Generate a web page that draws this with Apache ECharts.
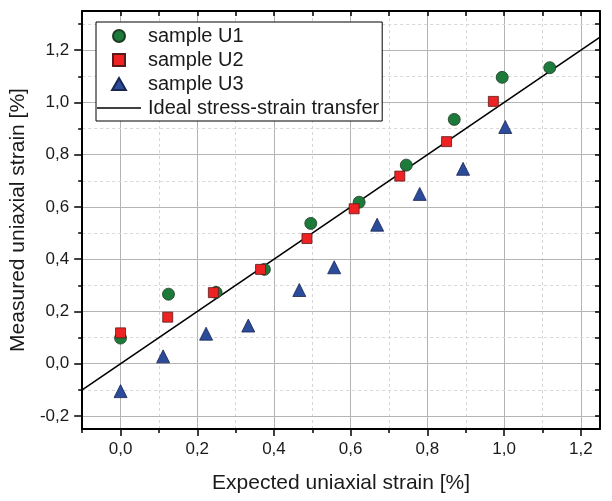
<!DOCTYPE html>
<html lang="en">
<head>
    <meta charset="UTF-8">
    <title>Strain transfer</title>
    <script src="https://cdn.jsdelivr.net/npm/echarts@6.0.0/dist/echarts.min.js"></script>
    <style>
        html, body { margin: 0; padding: 0; background: #fff; }
    </style>
</head>
<body>
    <div id="chart" style="width: 612px; height: 501px;"></div>
    <script>
        // expected strain [%] / measured strain [%]
        const u1X = [0.0, 0.125, 0.249, 0.375, 0.496, 0.622, 0.745, 0.870, 0.995, 1.119];
        const u1Y = [0.098, 0.266, 0.273, 0.361, 0.537, 0.618, 0.760, 0.935, 1.096, 1.133];
        const u2X = [0.0, 0.123, 0.242, 0.365, 0.486, 0.609, 0.728, 0.850, 0.972];
        const u2Y = [0.118, 0.178, 0.272, 0.361, 0.479, 0.593, 0.718, 0.850, 1.004];
        const u3X = [0.0, 0.111, 0.223, 0.333, 0.466, 0.557, 0.669, 0.780, 0.893, 1.003];
        const u3Y = [-0.105, 0.028, 0.115, 0.146, 0.282, 0.369, 0.532, 0.650, 0.746, 0.906];
        const idealX = [-0.1, 1.25]; // ideal transfer: measured = expected

        // ticks
        const xMajor = [0.0, 0.2, 0.4, 0.6, 0.8, 1.0, 1.2];
        const xMinor = [-0.1, 0.1, 0.3, 0.5, 0.7, 0.9, 1.1];
        const yMajor = [-0.2, 0.0, 0.2, 0.4, 0.6, 0.8, 1.0, 1.2];
        const yMinor = [-0.1, 0.1, 0.3, 0.5, 0.7, 0.9, 1.1, 1.3];
        const xAll = xMajor.concat(xMinor);
        const yAll = yMajor.concat(yMinor);

        const names = ['sample U1', 'sample U2', 'sample U3', 'Ideal stress-strain transfer'];
        const FONT = 'Arial, "Liberation Sans", sans-serif';
        const TXT = '#1a1a1a';

        function pairs(xs, ys) {
            return xs.map((x, i) => [x, ys[i]]);
        }
        function fmt(v) {
            return v.toFixed(1).replace('.', ',');
        }

        // grid lines as markLines (solid major, dashed minor)
        const gridLines = [];
        xMajor.forEach(v => gridLines.push({ xAxis: v, lineStyle: { color: '#b4b4b4', type: 'solid', width: 1 } }));
        xMinor.forEach(v => gridLines.push({ xAxis: v, lineStyle: { color: '#d6d6d6', type: [3, 3], width: 1 } }));
        yMajor.forEach(v => gridLines.push({ yAxis: v, lineStyle: { color: '#b4b4b4', type: 'solid', width: 1 } }));
        yMinor.forEach(v => gridLines.push({ yAxis: v, lineStyle: { color: '#d6d6d6', type: [3, 3], width: 1 } }));

        const axisBase = {
            type: 'value',
            axisLine: { show: true, onZero: false, lineStyle: { color: '#000', width: 2 } },
            splitLine: { show: false },
            axisLabel: { show: false },
        };
        const hiddenLine = { show: false, onZero: false };

        const chart = echarts.init(document.getElementById('chart'));
        chart.setOption({
            animation: false,
            backgroundColor: '#fff',
            textStyle: { fontFamily: FONT },
            grid: { left: 80, right: 12, top: 11, bottom: 72 },
            legend: {
                orient: 'vertical',
                left: 96,
                top: 22,
                padding: [4, 3, 3, 1],
                itemGap: 4,
                itemWidth: 44,
                itemHeight: 12,
                symbolKeepAspect: true,
                backgroundColor: '#fff',
                borderColor: '#000',
                borderWidth: 1,
                borderRadius: 0,
                textStyle: { fontSize: 20, color: TXT, fontFamily: FONT, padding: [0, 0, 0, 2] },
                data: [
                    { name: names[0], icon: 'circle' },
                    { name: names[1], icon: 'path://M0,0 H10 V10 H0 Z' },
                    { name: names[2], icon: 'path://M5,0 L10,8.7 L0,8.7 Z' },
                    { name: names[3], icon: 'path://M0,0 H44 V1.6 H0 Z', itemStyle: { color: '#000', borderWidth: 0 } }
                ]
            },
            xAxis: [
                Object.assign({}, axisBase, {
                    position: 'bottom', min: -0.1, max: 1.25,
                    name: 'Expected uniaxial strain [%]',
                    nameLocation: 'middle', nameGap: 44,
                    nameTextStyle: { fontSize: 21, color: TXT, fontFamily: FONT },
                    axisTick: { show: true, inside: false, length: 7, customValues: xMajor, lineStyle: { color: '#000', width: 1.5 } },
                    axisLabel: { show: true, customValues: xMajor, formatter: fmt, fontSize: 17, color: TXT, margin: 12, fontFamily: FONT }
                }),
                Object.assign({}, axisBase, {
                    position: 'bottom', min: -0.1, max: 1.25,
                    axisLine: hiddenLine,
                    axisTick: { show: true, inside: false, length: 4, customValues: xMinor, lineStyle: { color: '#000', width: 1.5 } }
                }),
                Object.assign({}, axisBase, {
                    position: 'top', min: -0.1, max: 1.25,
                    axisTick: { show: true, inside: true, length: 5, customValues: xAll, lineStyle: { color: '#000', width: 1.5 } }
                })
            ],
            yAxis: [
                Object.assign({}, axisBase, {
                    position: 'left', min: -0.25, max: 1.35,
                    name: 'Measured uniaxial strain [%]',
                    nameLocation: 'middle', nameGap: 44,
                    nameTextStyle: { fontSize: 21, color: TXT, fontFamily: FONT },
                    axisTick: { show: true, inside: false, length: 8, customValues: yMajor, lineStyle: { color: '#000', width: 1.5 } },
                    axisLabel: { show: true, customValues: yMajor, formatter: fmt, fontSize: 17, color: TXT, margin: 13, fontFamily: FONT }
                }),
                Object.assign({}, axisBase, {
                    position: 'left', min: -0.25, max: 1.35,
                    axisLine: hiddenLine,
                    axisTick: { show: true, inside: false, length: 4, customValues: yMinor, lineStyle: { color: '#000', width: 1.5 } }
                }),
                Object.assign({}, axisBase, {
                    position: 'right', min: -0.25, max: 1.35,
                    axisTick: { show: true, inside: true, length: 5, customValues: yAll, lineStyle: { color: '#000', width: 1.5 } }
                })
            ],
            series: [
                {
                    name: 'grid',
                    type: 'line',
                    data: [],
                    z: 0,
                    silent: true,
                    markLine: {
                        silent: true,
                        z: 0,
                        symbol: 'none',
                        label: { show: false },
                        emphasis: { disabled: true },
                        data: gridLines
                    }
                },
                {
                    name: names[3],
                    type: 'line',
                    data: idealX.map(x => [x, x]),
                    symbol: 'none',
                    showSymbol: false,
                    z: 8,
                    lineStyle: { color: '#000', width: 1.6 },
                    itemStyle: { color: '#000' }
                },
                {
                    name: names[0],
                    type: 'scatter',
                    data: pairs(u1X, u1Y),
                    symbol: 'circle',
                    symbolSize: 12,
                    z: 9,
                    itemStyle: { color: '#1c7a3a', borderColor: '#1f3a25', borderWidth: 0.8, opacity: 1 }
                },
                {
                    name: names[1],
                    type: 'scatter',
                    data: pairs(u2X, u2Y),
                    symbol: 'rect',
                    symbolSize: 10,
                    z: 10,
                    itemStyle: { color: '#ee2222', borderColor: '#5a1a1a', borderWidth: 0.8, opacity: 1 }
                },
                {
                    name: names[2],
                    type: 'scatter',
                    data: pairs(u3X, u3Y),
                    symbol: 'triangle',
                    symbolSize: 13,
                    z: 9,
                    itemStyle: { color: '#2b4b9b', borderColor: '#1a2550', borderWidth: 0.8, opacity: 1 }
                }
            ]
        });
    </script>
</body>
</html>
